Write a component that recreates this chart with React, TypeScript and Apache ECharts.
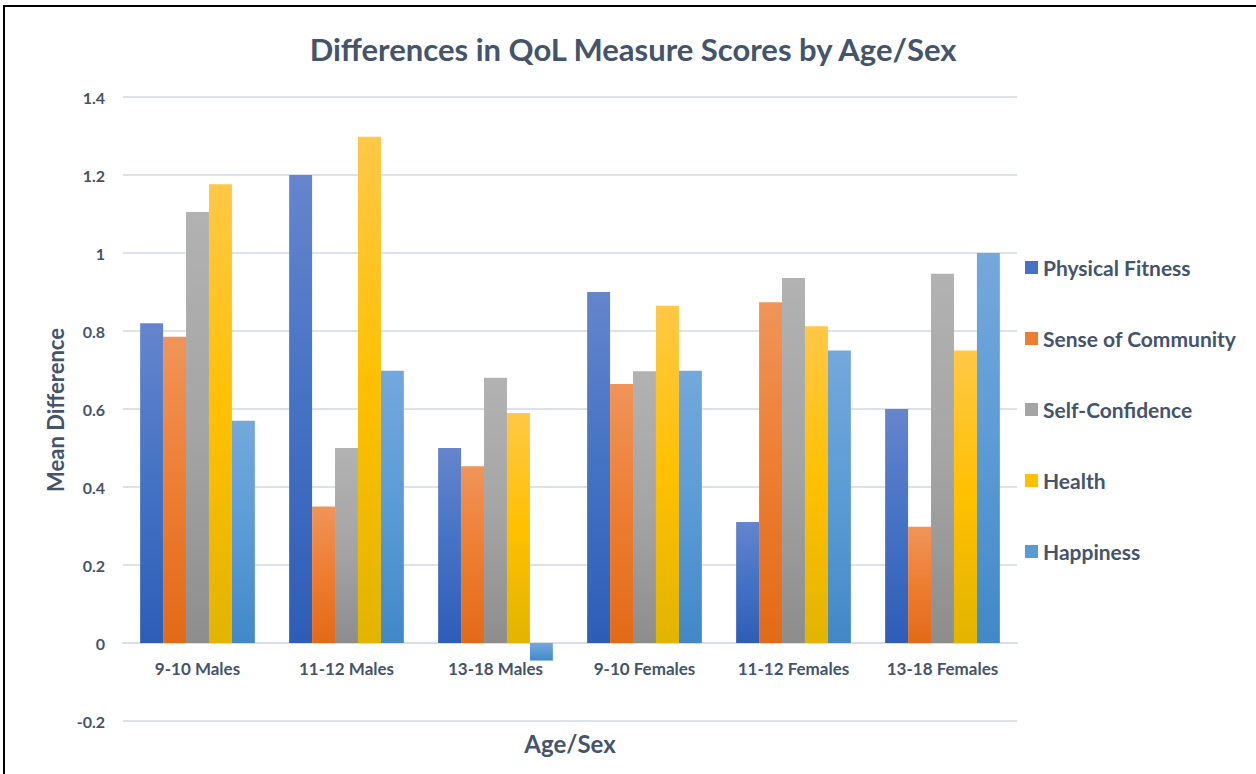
import React, { useEffect, useRef } from "react";
import * as echarts from "echarts";

const categories = ["9-10 Males", "11-12 Males", "13-18 Males", "9-10 Females", "11-12 Females", "13-18 Females"];
const seriesNames = ["Physical Fitness", "Sense of Community", "Self-Confidence", "Health", "Happiness"];
const physicalFitness = [0.82, 1.2, 0.5, 0.9, 0.31, 0.6];
const senseOfCommunity = [0.785, 0.35, 0.453, 0.664, 0.874, 0.298];
const selfConfidence = [1.105, 0.5, 0.68, 0.697, 0.936, 0.947];
const health = [1.176, 1.298, 0.59, 0.865, 0.812, 0.75];
const happiness = [0.57, 0.698, -0.045, 0.698, 0.75, 1.0];
const yTicks = { min: -0.2, max: 1.4, interval: 0.2 };

const FONT = "Lato";
const TEXT = "#44546A";

const palette = [
  { top: "#6585CD", bottom: "#2E5DB8", solid: "#4472C4" },
  { top: "#F09459", bottom: "#E26A17", solid: "#ED7D31" },
  { top: "#B2B2B2", bottom: "#8D8D8D", solid: "#A5A5A5" },
  { top: "#FFC846", bottom: "#E2B400", solid: "#FFC000" },
  { top: "#74A8DC", bottom: "#4288C7", solid: "#5B9BD5" },
];

export default function App() {
  const ref = useRef<HTMLDivElement>(null);
  useEffect(() => {
    if (!ref.current) return;
    const chart = echarts.init(ref.current, undefined, { renderer: "svg" });
    const values = [physicalFitness, senseOfCommunity, selfConfidence, health, happiness];
    const series = seriesNames.map((name, i) => ({
      name,
      type: "bar",
      data: values[i],
      barGap: "0%",
      barCategoryGap: "23%",
      itemStyle: {
        color: new echarts.graphic.LinearGradient(0, 0, 0, 1, [
          { offset: 0, color: palette[i].top },
          { offset: 0.5, color: palette[i].solid },
          { offset: 1, color: palette[i].bottom },
        ]),
      },
    }));
    chart.setOption({
      animation: false,
      backgroundColor: "#ffffff",
      title: {
        text: "Differences in QoL Measure Scores by Age/Sex",
        left: 628,
        textAlign: "center",
        top: 28,
        textStyle: { fontFamily: FONT, fontSize: 31, fontWeight: "bold", color: TEXT },
      },
      legend: {
        orient: "vertical",
        left: 1020,
        top: 252,
        itemWidth: 13,
        itemHeight: 13,
        itemGap: 50,
        icon: "rect",
        data: seriesNames.map((n, i) => ({ name: n, itemStyle: { color: palette[i].solid } })),
        textStyle: { fontFamily: FONT, fontSize: 21, fontWeight: "bold", color: TEXT },
      },
      grid: { left: 123, right: 239, top: 97, bottom: 53, containLabel: false },
      xAxis: {
        type: "category",
        data: categories,
        offset: -78,
        axisLine: { onZero: false, lineStyle: { color: "#D9DEE6", width: 2 } },
        axisTick: { show: false },
        axisLabel: { interval: 0, margin: 17, fontFamily: FONT, fontSize: 17, fontWeight: "bold", color: TEXT },
      },
      yAxis: {
        type: "value",
        min: yTicks.min,
        max: yTicks.max,
        interval: yTicks.interval,
        axisLine: { show: false },
        axisTick: { show: false },
        splitLine: { lineStyle: { color: "#DDE2EA", width: 2 } },
        axisLabel: { margin: 18, fontFamily: FONT, fontSize: 16, fontWeight: "bold", color: TEXT },
      },
      series,
      graphic: [
        {
          type: "text",
          x: 55,
          y: 410,
          rotation: Math.PI / 2,
          style: {
            text: "Mean Difference",
            fontFamily: FONT,
            fontSize: 22,
            fontWeight: "bold",
            fill: TEXT,
            align: "center",
            verticalAlign: "middle",
          },
        },
        {
          type: "text",
          x: 570,
          y: 743,
          style: {
            text: "Age/Sex",
            fontFamily: FONT,
            fontSize: 24,
            fontWeight: "bold",
            fill: TEXT,
            align: "center",
            verticalAlign: "middle",
          },
        },
        { type: "line", shape: { x1: 3, y1: 6, x2: 1256, y2: 6 }, style: { stroke: "#000", lineWidth: 2 } },
        { type: "line", shape: { x1: 4, y1: 5, x2: 4, y2: 774 }, style: { stroke: "#000", lineWidth: 2 } },
      ],
    });
    return () => chart.dispose();
  }, []);
  return (
    <div
      ref={ref}
      style={{ position: "fixed", left: 0, top: 0, width: 1256, height: 774, background: "#fff" }}
    />
  );
}
